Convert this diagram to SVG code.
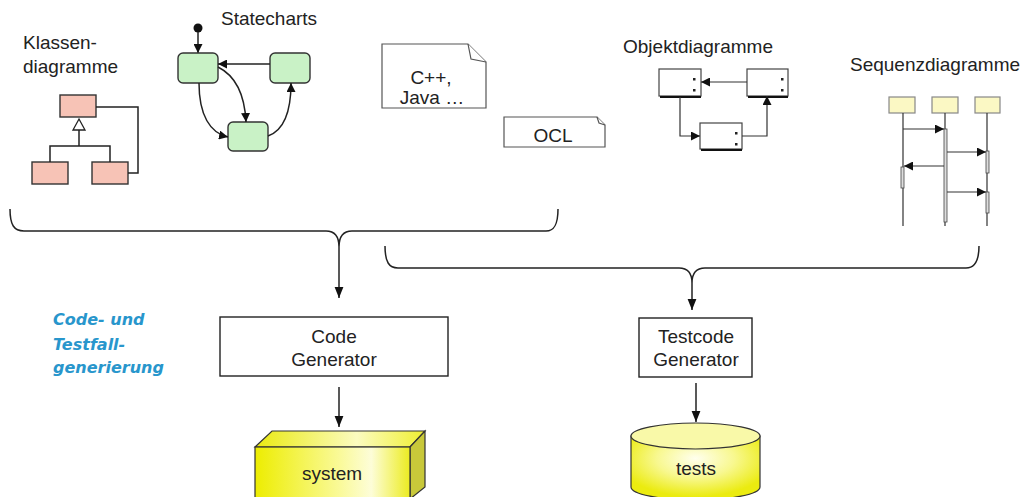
<svg xmlns="http://www.w3.org/2000/svg" width="1027" height="497" viewBox="0 0 1027 497">
  <style>
    .lbl { font-family: "Liberation Sans", Arial, sans-serif; font-size: 19px; fill: #222; }
    .mid { text-anchor: middle; }
    .note { font-family: "DejaVu Sans", sans-serif; font-size: 16px; font-weight: bold; font-style: oblique; fill: #2896cc; }
    .ln { fill: none; stroke: #222; stroke-width: 1.5; }
    .thin { fill: none; stroke: #333; stroke-width: 1.2; }
    .cls { fill: #f7c3b6; stroke: #333; stroke-width: 1.4; }
    .st { fill: #c9f2c6; stroke: #333; stroke-width: 1.4; }
    .obj { fill: #fff; stroke: #444; stroke-width: 1.2; }
    .seq { fill: #fbf8c4; stroke: #888; stroke-width: 1.2; }
    .act { fill: #ddd; stroke: #444; stroke-width: 0.8; }
    .doc { fill: #fff; stroke: #555; stroke-width: 1.2; }
    .box { fill: #fff; stroke: #222; stroke-width: 1.4; }
  </style>
  <defs>
    <marker id="arr" viewBox="0 0 10 10" refX="10" refY="5" markerWidth="9" markerHeight="9" markerUnits="userSpaceOnUse" orient="auto">
      <path d="M0,0 L10,5 L0,10 Z" fill="#111"/>
    </marker>
    <marker id="arrL" viewBox="0 0 10 10" refX="10" refY="5" markerWidth="11" markerHeight="11" markerUnits="userSpaceOnUse" orient="auto">
      <path d="M0,1 L10,5 L0,9 Z" fill="#111"/>
    </marker>
    <linearGradient id="front" x1="0" y1="0" x2="1" y2="0">
      <stop offset="0" stop-color="#eded00"/>
      <stop offset="0.55" stop-color="#fafa9a"/>
      <stop offset="0.75" stop-color="#fdfdd8"/>
      <stop offset="1" stop-color="#ecec20"/>
    </linearGradient>
    <linearGradient id="topf" x1="0" y1="0" x2="1" y2="0">
      <stop offset="0" stop-color="#eaea10"/>
      <stop offset="0.6" stop-color="#fbfbc0"/>
      <stop offset="1" stop-color="#eeee30"/>
    </linearGradient>
    <radialGradient id="cyl" cx="0.5" cy="0.35" r="0.6">
      <stop offset="0" stop-color="#ffffee"/>
      <stop offset="0.5" stop-color="#f8f890"/>
      <stop offset="1" stop-color="#ebeb10"/>
    </radialGradient>
  </defs>

  <!-- Klassendiagramme -->
  <g id="klassendiagramme">
    <text class="lbl" x="23" y="49">Klassen-</text>
    <text class="lbl" x="23" y="73">diagramme</text>
    <rect class="cls" x="60" y="95" width="36" height="22"/>
    <rect class="cls" x="32" y="162" width="36" height="22"/>
    <rect class="cls" x="92" y="162" width="36" height="22"/>
    <path class="ln" d="M50,162 V146 H110 V162 M79,146 V130"/>
    <path d="M79,119 L85,130 H73 Z" fill="#fff" stroke="#222" stroke-width="1.3"/>
    <path class="ln" d="M96,107 H138 V173 H128"/>
  </g>

  <!-- Statecharts -->
  <g id="statecharts">
    <text class="lbl" x="221" y="25">Statecharts</text>
    <circle cx="198" cy="28" r="4.5" fill="#111"/>
    <path class="ln" d="M198,32 V53" marker-end="url(#arr)"/>
    <rect class="st" x="178" y="53" width="40" height="30" rx="5"/>
    <rect class="st" x="270" y="53" width="40" height="30" rx="5"/>
    <rect class="st" x="228" y="122" width="40" height="29" rx="5"/>
    <path class="ln" d="M270,64 H218" marker-end="url(#arr)"/>
    <path class="ln" d="M218,67 Q244,80 246,122" marker-end="url(#arr)"/>
    <path class="ln" d="M199,83 C199,115 210,133 228,137" marker-end="url(#arr)"/>
    <path class="ln" d="M268,136 C285,130 291,108 291,83" marker-end="url(#arr)"/>
  </g>

  <!-- C++ / Java document -->
  <g id="doc-code">
    <path class="doc" d="M382,44 H468 L486,62 V108 H382 Z"/>
    <path class="doc" d="M468,44 L471,59 L486,62"/>
    <text class="lbl mid" x="431" y="84">C++,</text>
    <text class="lbl mid" x="432" y="104">Java …</text>
  </g>

  <!-- OCL document -->
  <g id="doc-ocl">
    <path class="doc" d="M504,117 H597 L605,125 V147 H504 Z"/>
    <path class="doc" d="M597,117 L599,123 L605,125"/>
    <text class="lbl mid" x="553" y="142">OCL</text>
  </g>

  <!-- Objektdiagramme -->
  <g id="objektdiagramme">
    <text class="lbl" x="623" y="53">Objektdiagramme</text>
    <rect class="obj" x="659" y="69" width="42" height="27"/>
    <rect class="obj" x="747" y="69" width="41" height="27"/>
    <rect class="obj" x="700" y="123" width="42" height="26"/>
    <path d="M660,97 H701 M748,97 H788 M701,150 H742" stroke="#111" stroke-width="2.2"/>
    <g fill="#222">
      <rect x="693" y="78" width="2.5" height="2.5"/><rect x="693" y="89" width="2.5" height="2.5"/>
      <rect x="781" y="78" width="2.5" height="2.5"/><rect x="781" y="89" width="2.5" height="2.5"/>
      <rect x="735" y="132" width="2.5" height="2.5"/><rect x="735" y="143" width="2.5" height="2.5"/>
    </g>
    <path class="thin" d="M747,82 H701" marker-end="url(#arr)"/>
    <path class="thin" d="M680,97 V136 H700" marker-end="url(#arr)"/>
    <path class="thin" d="M742,136 H767 V96" marker-end="url(#arr)"/>
  </g>

  <!-- Sequenzdiagramme -->
  <g id="sequenzdiagramme">
    <text class="lbl" x="850" y="71">Sequenzdiagramme</text>
    <rect class="seq" x="889" y="97" width="26" height="16"/>
    <rect class="seq" x="932" y="97" width="26" height="16"/>
    <rect class="seq" x="975" y="97" width="25" height="16"/>
    <path class="thin" d="M903,113 V226 M945,113 V226 M987,113 V226"/>
    <rect class="act" x="944" y="129" width="3" height="93"/>
    <rect class="act" x="986" y="151" width="3" height="22"/>
    <rect class="act" x="986" y="192" width="3" height="21"/>
    <rect class="act" x="901" y="167" width="3" height="21"/>
    <path class="thin" d="M903,129 H944" marker-end="url(#arr)"/>
    <path class="thin" d="M947,152 H986" marker-end="url(#arr)"/>
    <path class="thin" d="M944,166 H904" marker-end="url(#arr)"/>
    <path class="thin" d="M947,192 H986" marker-end="url(#arr)"/>
  </g>

  <!-- Braces and flow arrows -->
  <g id="connectors">
    <path class="ln" d="M10,209 C10,225 14,231 24,231 L326,231 C334,231 339,236 339,247 C339,236 344,231 352,231 L546,231 C554,231 558,225 558,209"/>
    <path class="ln" d="M339,247 V298" marker-end="url(#arrL)"/>
    <path class="ln" d="M385,246 C385,262 389,268 398,268 L679,268 C687,268 692,273 692,283 C692,273 697,268 705,268 L966,268 C974,268 979,262 979,246"/>
    <path class="ln" d="M692,283 V310" marker-end="url(#arrL)"/>
    <path class="ln" d="M339,387 V427" marker-end="url(#arrL)"/>
    <path class="ln" d="M696,383 V422" marker-end="url(#arrL)"/>
  </g>

  <!-- Note -->
  <g id="note">
    <text class="note" x="53" y="325">Code- und</text>
    <text class="note" x="53" y="350">Testfall-</text>
    <text class="note" x="53" y="373">generierung</text>
  </g>

  <!-- Code Generator -->
  <g id="code-generator">
    <rect class="box" x="220" y="317" width="228" height="59"/>
    <text class="lbl mid" x="334" y="343">Code</text>
    <text class="lbl mid" x="334" y="366">Generator</text>
  </g>

  <!-- Testcode Generator -->
  <g id="testcode-generator">
    <rect class="box" x="639" y="318" width="113" height="59"/>
    <text class="lbl mid" x="696" y="343">Testcode</text>
    <text class="lbl mid" x="696" y="366">Generator</text>
  </g>

  <!-- system block -->
  <g id="system">
    <path d="M255,447 L272,431 H425 L410,447 Z" fill="url(#topf)" stroke="#333" stroke-width="1.2"/>
    <path d="M410,447 L425,431 V487 L410,499 Z" fill="#c8c83a" stroke="#333" stroke-width="1.2"/>
    <rect x="255" y="447" width="155" height="52" fill="url(#front)" stroke="#333" stroke-width="1.2"/>
    <text class="lbl mid" x="332" y="480">system</text>
  </g>

  <!-- tests store -->
  <g id="tests">
    <path d="M631,436 V487 A64.5,13 0 0 0 760,487 V436 Z" fill="url(#cyl)" stroke="#333" stroke-width="1.2"/>
    <ellipse cx="695.5" cy="436" rx="64.5" ry="13" fill="#f9f9a8" stroke="#333" stroke-width="1.2"/>
    <text class="lbl mid" x="696" y="475">tests</text>
  </g>
</svg>
